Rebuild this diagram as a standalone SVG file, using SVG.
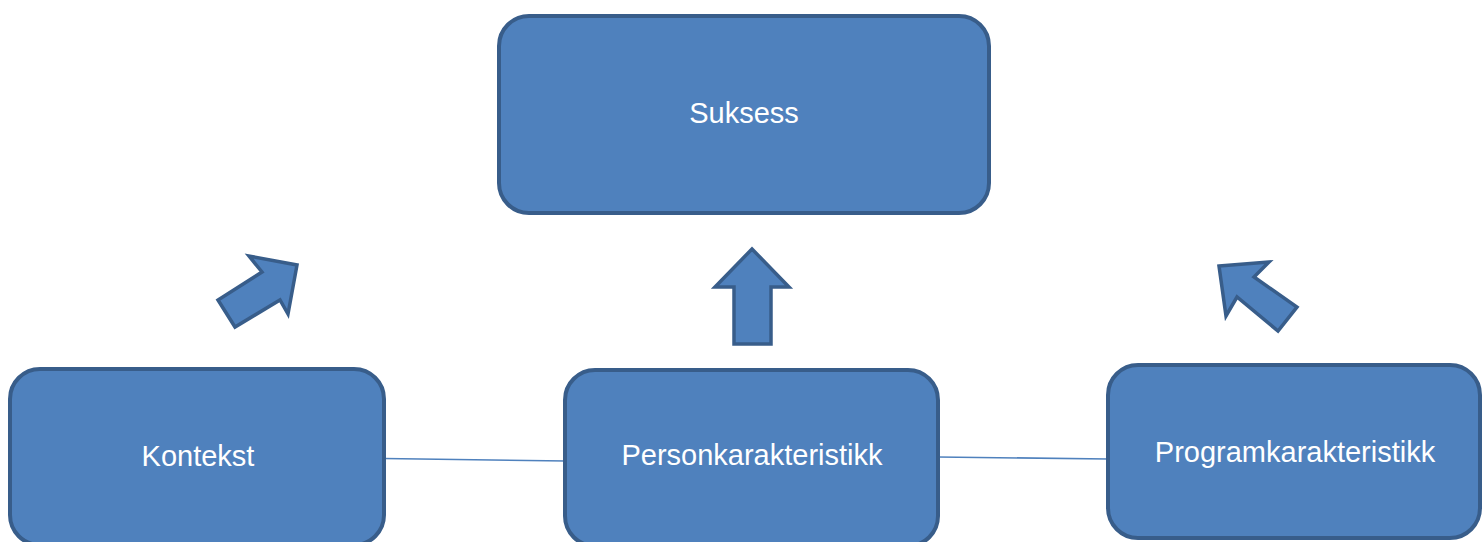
<svg xmlns="http://www.w3.org/2000/svg" width="1483" height="542" viewBox="0 0 1483 542">
<style>
.box{fill:#4F81BD;stroke:#385D8A;stroke-width:4}
.arrow{fill:#4F81BD;stroke:#385D8A;stroke-width:3.5;stroke-linejoin:miter}
.lbl{font-family:"Liberation Sans",Arial,sans-serif;font-size:29px;fill:#FFFFFF;text-anchor:middle}
.conn{stroke:#4F81BD;stroke-width:1.6;fill:none}
</style>
<rect width="1483" height="542" fill="#FFFFFF"/>
<g id="connectors">
<line class="conn" x1="384" y1="458.5" x2="566" y2="461"/>
<line class="conn" x1="938" y1="457" x2="1108" y2="459"/>
<polygon class="arrow" points="297,265 288,314 280,300 235,327 218,300 262,272 249,256"/>
<polygon class="arrow" points="752,249 789,287 771,287 771,344 734,344 734,287 715,287"/>
<polygon class="arrow" points="1219,266 1269,262 1254,277 1297,307 1278,331 1237,297 1226,316"/>
</g>
<g id="suksess">
<rect class="box" x="499" y="16" width="490" height="197" rx="30" ry="30"/>
<text class="lbl" x="744" y="123">Suksess</text>
</g>
<g id="kontekst">
<rect class="box" x="10" y="369" width="374" height="176" rx="30" ry="30"/>
<text class="lbl" x="198" y="466">Kontekst</text>
</g>
<g id="personkarakteristikk">
<rect class="box" x="565" y="370" width="373" height="176" rx="30" ry="30"/>
<text class="lbl" x="752" y="465">Personkarakteristikk</text>
</g>
<g id="programkarakteristikk">
<rect class="box" x="1108" y="365" width="372" height="173" rx="30" ry="30"/>
<text class="lbl" x="1295" y="462">Programkarakteristikk</text>
</g>
</svg>
